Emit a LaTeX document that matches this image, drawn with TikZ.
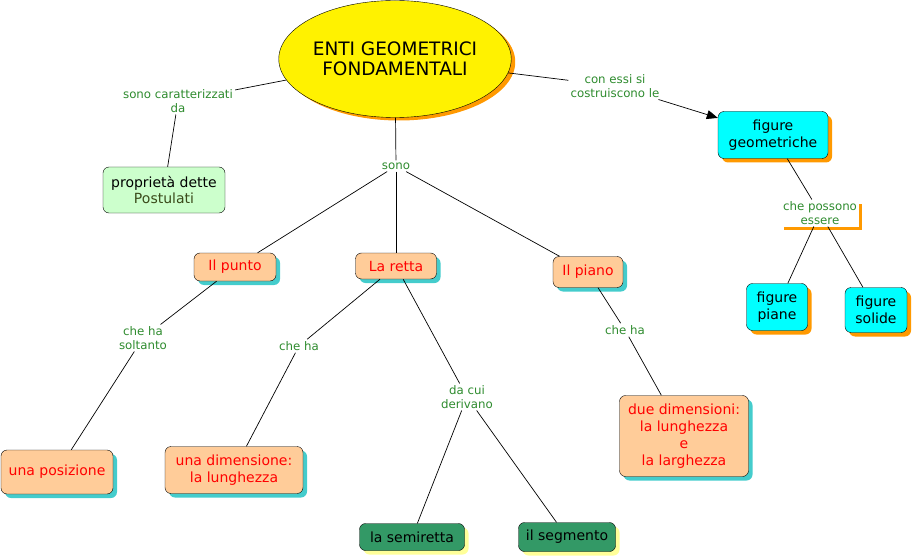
\documentclass[tikz,border=0pt]{standalone}
\usepackage{fontspec}
\setmainfont{DejaVu Sans}
\usetikzlibrary{shapes.geometric,shadows,calc,arrows.meta}
\definecolor{linkgreen}{HTML}{2E8B2E}
\definecolor{conceptfill}{HTML}{FFCC99}
\definecolor{tealshadow}{HTML}{44CCCC}
\definecolor{orangeshadow}{HTML}{FF9900}
\definecolor{figfill}{HTML}{00FFFF}
\definecolor{leaffill}{HTML}{339966}
\definecolor{leafshadow}{HTML}{FFFF99}
\definecolor{notefill}{HTML}{CCFFCC}
\definecolor{notetext}{HTML}{3A4A1A}
\tikzstyle{maintitle} = [ellipse, draw=black, fill=yellow, inner sep=0pt, minimum width=216pt, minimum height=117pt, align=center, font=\fontsize{18.5}{20.5}\selectfont, drop shadow={shadow xshift=4pt, shadow yshift=-3pt, fill=orangeshadow, opacity=1}]
\tikzstyle{linklabel} = [inner sep=2pt, align=center, text=linkgreen, font=\fontsize{11.8}{13.5}\selectfont]
\tikzstyle{box} = [rectangle, rounded corners=6pt, draw=black, inner sep=2pt, align=center, font=\fontsize{14}{16.8}\selectfont]
\tikzstyle{concept} = [box, fill=conceptfill, text=red, drop shadow={shadow xshift=4pt, shadow yshift=-4pt, fill=tealshadow, opacity=1}]
\tikzstyle{figure} = [box, fill=figfill, drop shadow={shadow xshift=4pt, shadow yshift=-4pt, fill=orangeshadow, opacity=1}]
\tikzstyle{leaf} = [box, fill=leaffill, drop shadow={shadow xshift=4pt, shadow yshift=-4pt, fill=leafshadow, opacity=1}]
\tikzstyle{note} = [box, fill=notefill]
\tikzstyle{link} = [draw=black, line width=0.7pt]
\tikzstyle{arrow} = [link, -{Triangle[length=11pt,width=9pt]}]
\begin{document}
\begin{tikzpicture}[x=1pt,y=-1pt]
\useasboundingbox (0,0) rectangle (913,559);
\node (enti) [maintitle] at (395,59) {ENTI GEOMETRICI\\FONDAMENTALI};
\node (caratt) [linklabel] at (178,101) {sono caratterizzati\\da};
\node (postulati) [note, minimum width=122pt, minimum height=46pt] at (164,190) {propriet\`a dette\\{\color{notetext}Postulati}};
\node (costruiscono) [linklabel] at (615,86) {con essi si\\costruiscono le};
\node (figgeo) [figure, minimum width=110pt, minimum height=47pt] at (773,135) {figure\\geometriche};
\node (possono) [linklabel] at (820,213) {che possono\\essere};
\node (piane) [figure, minimum width=61pt, minimum height=47pt] at (777,307) {figure\\piane};
\node (solide) [figure, minimum width=62pt, minimum height=45pt] at (876,310) {figure\\solide};
\node (sono) [linklabel] at (396,166) {sono};
\node (punto) [concept, minimum width=82pt, minimum height=28pt] at (235,267) {Il punto};
\node (retta) [concept, minimum width=81pt, minimum height=26pt] at (396,266) {La retta};
\node (piano) [concept, minimum width=70pt, minimum height=31pt] at (588,272) {Il piano};
\node (soltanto) [linklabel] at (143,338) {che ha\\soltanto};
\node (cheha) [linklabel] at (299,346) {che ha};
\node (derivano) [linklabel] at (467,397) {da cui\\derivano};
\node (chehapiano) [linklabel] at (625,330) {che ha};
\node (posizione) [concept, minimum width=112pt, minimum height=44pt] at (57,472) {una posizione};
\node (unadim) [concept, minimum width=138pt, minimum height=47pt] at (234,470) {una dimensione:\\la lunghezza};
\node (duedim) [concept, minimum width=129pt, minimum height=81pt] at (684,436) {due dimensioni:\\la lunghezza\\e\\la larghezza};
\node (semiretta) [leaf, minimum width=105pt, minimum height=27pt] at (412,537) {la semiretta};
\node (segmento) [leaf, minimum width=97pt, minimum height=29pt] at (567,537) {il segmento};
% orange edge under the label
\draw [orangeshadow, line width=3pt] ($(possono)+(-36,15)$) -| ($(possono)+(40,-9)$);
\draw [link] (enti) -- (caratt);
\draw [link] (caratt) -- (postulati);
\draw [link] (enti) -- (costruiscono);
\draw [arrow] (costruiscono) -- (figgeo);
\draw [link] (figgeo) -- (possono);
\draw [link] (possono) -- (piane);
\draw [link] (possono) -- (solide);
\draw [link] (enti) -- (sono);
\draw [link] (sono) -- (punto);
\draw [link] (sono) -- (retta);
\draw [link] (sono) -- (piano);
\draw [link] (punto) -- (soltanto);
\draw [link] (soltanto) -- (posizione);
\draw [link] (retta) -- (cheha);
\draw [link] (cheha) -- (unadim);
\draw [link] (retta) -- (derivano);
\draw [link] (derivano) -- (semiretta);
\draw [link] (derivano) -- (segmento);
\draw [link] (piano) -- (chehapiano);
\draw [link] (chehapiano) -- (duedim);
\end{tikzpicture}
\end{document}
